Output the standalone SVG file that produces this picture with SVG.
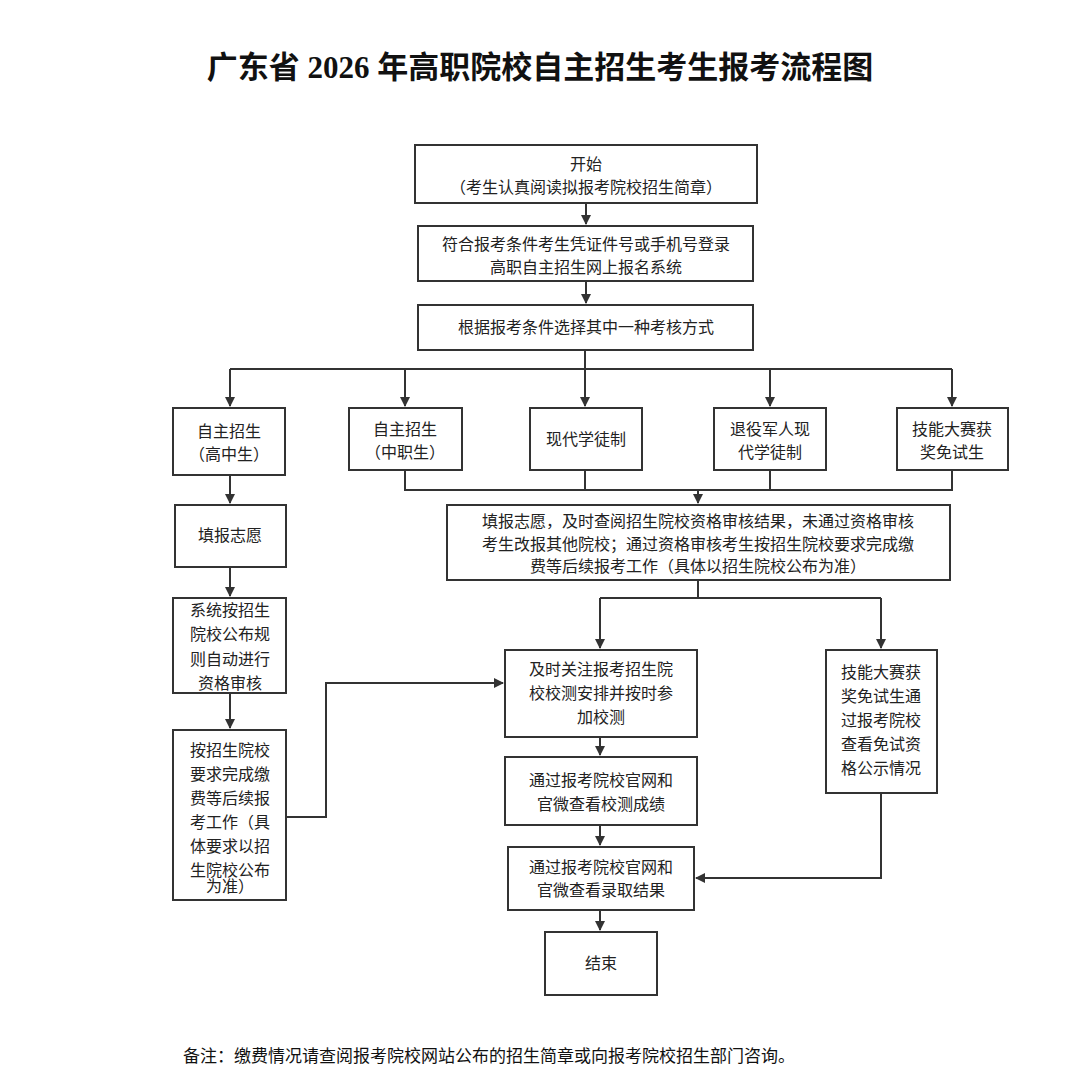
<svg xmlns="http://www.w3.org/2000/svg" width="1080" height="1086" viewBox="0 0 1080 1086">
<style>
.b{fill:#fff;stroke:#333;stroke-width:2}
.t{font-family:"Liberation Sans","Noto Sans CJK SC",sans-serif;font-size:16px;fill:#222;text-anchor:middle}
.c{fill:none;stroke:#333;stroke-width:2}
</style>
<defs><marker id="a" markerWidth="10" markerHeight="10" refX="9" refY="5" orient="auto" markerUnits="userSpaceOnUse"><path d="M0,0L10,5L0,10z" fill="#333"/></marker></defs>
<rect width="1080" height="1086" fill="#fff"/>
<text x="540" y="78" style="font-family:'Liberation Serif','Noto Sans CJK SC',serif;font-size:31px;font-weight:bold;text-anchor:middle;fill:#111">广东省 2026 年高职院校自主招生考生报考流程图</text>
<g id="connectors">
<path class="c" d="M586,203V224" marker-end="url(#a)"/>
<path class="c" d="M586,281V303" marker-end="url(#a)"/>
<path class="c" d="M585,350V369M230,369H952"/>
<path class="c" d="M230,369V406" marker-end="url(#a)"/>
<path class="c" d="M405,369V406" marker-end="url(#a)"/>
<path class="c" d="M585,369V406" marker-end="url(#a)"/>
<path class="c" d="M770,369V406" marker-end="url(#a)"/>
<path class="c" d="M952,369V406" marker-end="url(#a)"/>
<path class="c" d="M405,470V490H952V470M585,470V490M770,470V490"/>
<path class="c" d="M698,490V503" marker-end="url(#a)"/>
<path class="c" d="M230,475V503" marker-end="url(#a)"/>
<path class="c" d="M230,567V596" marker-end="url(#a)"/>
<path class="c" d="M230,693V728" marker-end="url(#a)"/>
<path class="c" d="M286,817H326V683H503" marker-end="url(#a)"/>
<path class="c" d="M698,580V598M600,598H881"/>
<path class="c" d="M600,598V648" marker-end="url(#a)"/>
<path class="c" d="M881,598V648" marker-end="url(#a)"/>
<path class="c" d="M600,737V755" marker-end="url(#a)"/>
<path class="c" d="M600,825V845" marker-end="url(#a)"/>
<path class="c" d="M881,793V878H696" marker-end="url(#a)"/>
<path class="c" d="M600,910V930" marker-end="url(#a)"/>
</g>
<g id="n1"><rect class="b" x="415" y="145" width="342" height="58"/><text class="t" x="586" y="170">开始</text><text class="t" x="586" y="193">（考生认真阅读拟报考院校招生简章）</text></g>
<g id="n2"><rect class="b" x="418" y="226" width="335" height="55"/><text class="t" x="586" y="250">符合报考条件考生凭证件号或手机号登录</text><text class="t" x="586" y="273">高职自主招生网上报名系统</text></g>
<g id="n3"><rect class="b" x="418" y="305" width="335" height="45"/><text class="t" x="586" y="333">根据报考条件选择其中一种考核方式</text></g>
<g id="nA"><rect class="b" x="173" y="408" width="112" height="67"/><text class="t" x="229" y="437">自主招生</text><text class="t" x="229" y="460">（高中生）</text></g>
<g id="nB"><rect class="b" x="349" y="408" width="113" height="62"/><text class="t" x="405" y="435">自主招生</text><text class="t" x="405" y="458">（中职生）</text></g>
<g id="nC"><rect class="b" x="530" y="408" width="112" height="62"/><text class="t" x="586" y="445">现代学徒制</text></g>
<g id="nD"><rect class="b" x="714" y="408" width="112" height="62"/><text class="t" x="770" y="435">退役军人现</text><text class="t" x="770" y="458">代学徒制</text></g>
<g id="nE"><rect class="b" x="897" y="408" width="111" height="62"/><text class="t" x="952" y="435">技能大赛获</text><text class="t" x="952" y="458">奖免试生</text></g>
<g id="nF"><rect class="b" x="447" y="505" width="503" height="75"/><text class="t" x="698" y="527">填报志愿，及时查阅招生院校资格审核结果，未通过资格审核</text><text class="t" x="698" y="550">考生改报其他院校；通过资格审核考生按招生院校要求完成缴</text><text class="t" x="698" y="572">费等后续报考工作（具体以招生院校公布为准）</text></g>
<g id="nL1"><rect class="b" x="175" y="505" width="111" height="62"/><text class="t" x="230" y="541">填报志愿</text></g>
<g id="nL2"><rect class="b" x="173" y="598" width="113" height="95"/><text class="t" x="230" y="616">系统按招生</text><text class="t" x="230" y="640">院校公布规</text><text class="t" x="230" y="665">则自动进行</text><text class="t" x="230" y="689">资格审核</text></g>
<g id="nL3"><rect class="b" x="173" y="730" width="113" height="170"/><text class="t" x="230" y="756">按招生院校</text><text class="t" x="230" y="780">要求完成缴</text><text class="t" x="230" y="804">费等后续报</text><text class="t" x="230" y="828">考工作（具</text><text class="t" x="230" y="852">体要求以招</text><text class="t" x="230" y="876">生院校公布</text><text class="t" x="230" y="892" dy="0">为准）</text></g>
<g id="nG"><rect class="b" x="505" y="650" width="192" height="87"/><text class="t" x="601" y="675">及时关注报考招生院</text><text class="t" x="601" y="699">校校测安排并按时参</text><text class="t" x="601" y="723">加校测</text></g>
<g id="nH"><rect class="b" x="505" y="757" width="192" height="68"/><text class="t" x="601" y="786">通过报考院校官网和</text><text class="t" x="601" y="810">官微查看校测成绩</text></g>
<g id="nI"><rect class="b" x="508" y="847" width="186" height="63"/><text class="t" x="601" y="873">通过报考院校官网和</text><text class="t" x="601" y="896">官微查看录取结果</text></g>
<g id="nJ"><rect class="b" x="826" y="650" width="111" height="143"/><text class="t" x="881" y="678">技能大赛获</text><text class="t" x="881" y="702">奖免试生通</text><text class="t" x="881" y="726">过报考院校</text><text class="t" x="881" y="750">查看免试资</text><text class="t" x="881" y="774">格公示情况</text></g>
<g id="nK"><rect class="b" x="545" y="932" width="112" height="63"/><text class="t" x="601" y="969">结束</text></g>
<text x="183" y="1062" style="font-family:'Liberation Sans','Noto Sans CJK SC',sans-serif;font-size:17px;fill:#111">备注：缴费情况请查阅报考院校网站公布的招生简章或向报考院校招生部门咨询。</text>
</svg>
